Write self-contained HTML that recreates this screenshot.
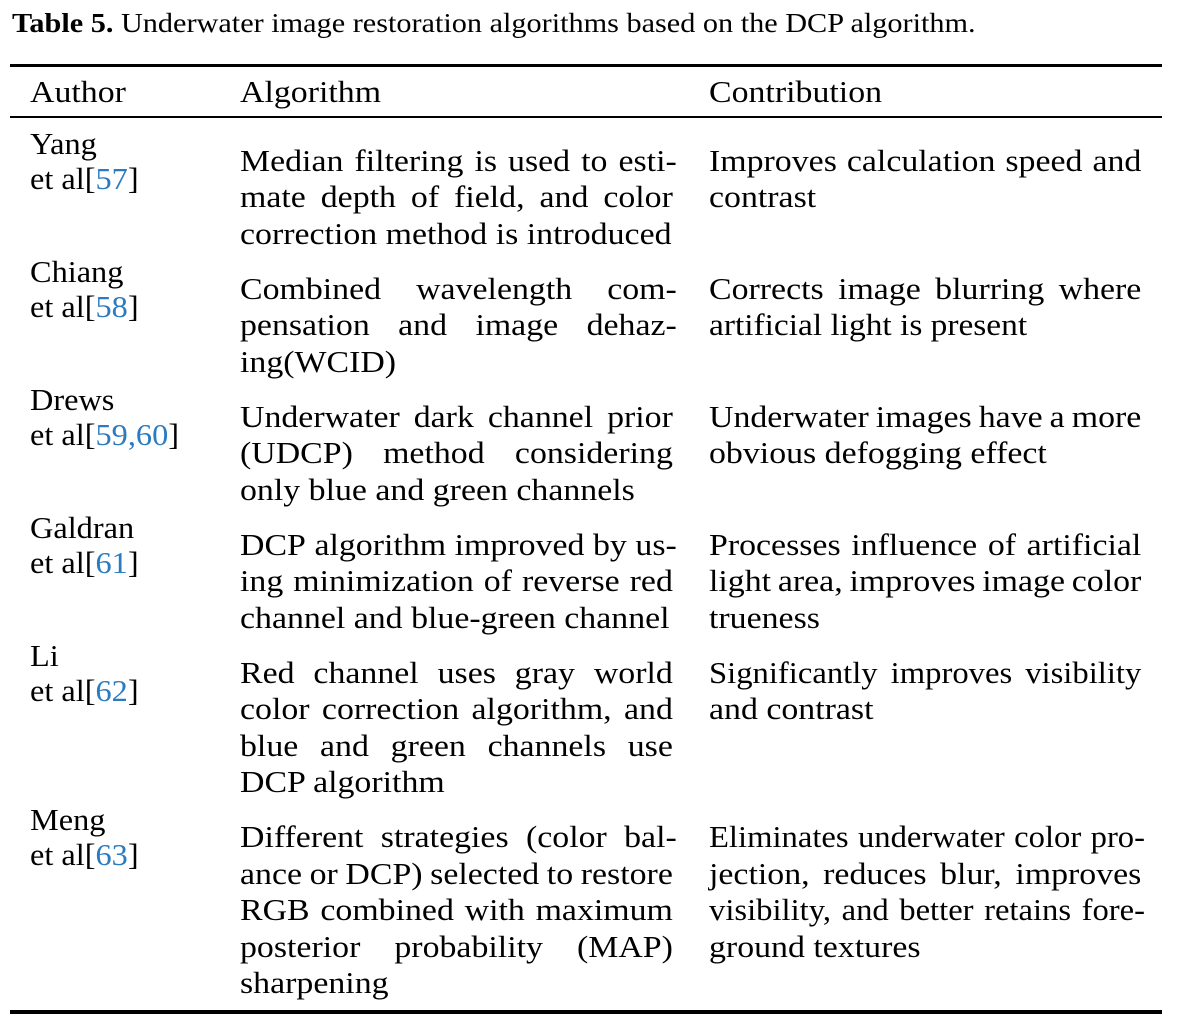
<!DOCTYPE html>
<html>
<head>
<meta charset="utf-8">
<style>
  html, body { margin:0; padding:0; background:#fff; }
  body { width:1185px; height:1029px; position:relative; overflow:hidden; }
  .t { position:absolute; font-family:"Liberation Serif", serif; font-size:30.5px; line-height:30.5px; white-space:nowrap; transform:scaleX(1.11); transform-origin:0 0; color:#000; margin-top:1px; }
  .j { display:flex; justify-content:space-between; }
  .a { left:30px; transform:scaleX(1.06); }
  .g { left:240px; }
  .c { left:709px; }
  .gw { width:390px; }
  .gh { width:393.5px; }
  .cw { width:389.5px; }
  .ch { width:393px; }
  .s2 { transform:scaleX(1.07); }
  .s2.cw { width:404px; }
  .s2.ch { width:407.5px; }
  .l { color:#2a7bc0; }
  .cap { position:absolute; left:12px; top:10.4px; font-family:"Liberation Serif", serif; font-size:27px; line-height:27px; white-space:nowrap; transform:scaleX(1.12); transform-origin:0 0; color:#000; }
  .rule { position:absolute; left:10px; width:1152px; background:#000; }
</style>
</head>
<body>
<div class="cap"><b>Table 5.</b> Underwater image restoration algorithms based on the DCP algorithm.</div>

<div class="rule" style="top:64px;height:3px;"></div>
<div class="rule" style="top:116px;height:2px;"></div>
<div class="rule" style="top:1010px;height:4px;"></div>

<!-- header -->
<div class="t a" style="top:75.5px;transform:scaleX(1.11);">Author</div>
<div class="t g" style="top:75.5px;">Algorithm</div>
<div class="t c" style="top:75.5px;">Contribution</div>

<!-- Row 1 -->
<div class="t a" style="top:127.5px;">Yang</div>
<div class="t a" style="top:162.5px;">et al[<span class="l">57</span>]</div>
<div class="t g j gh" style="top:144.5px;"><span>Median</span><span>filtering</span><span>is</span><span>used</span><span>to</span><span>esti-</span></div>
<div class="t g j gw" style="top:181px;"><span>mate</span><span>depth</span><span>of</span><span>field,</span><span>and</span><span>color</span></div>
<div class="t g" style="top:217.5px;">correction method is introduced</div>
<div class="t c j cw" style="top:144.5px;"><span>Improves</span><span>calculation</span><span>speed</span><span>and</span></div>
<div class="t c" style="top:181px;">contrast</div>

<!-- Row 2 -->
<div class="t a" style="top:255.5px;">Chiang</div>
<div class="t a" style="top:290.5px;">et al[<span class="l">58</span>]</div>
<div class="t g j gh" style="top:272.5px;"><span>Combined</span><span>wavelength</span><span>com-</span></div>
<div class="t g j gh" style="top:309px;"><span>pensation</span><span>and</span><span>image</span><span>dehaz-</span></div>
<div class="t g" style="top:345.5px;">ing(WCID)</div>
<div class="t c j cw" style="top:272.5px;"><span>Corrects</span><span>image</span><span>blurring</span><span>where</span></div>
<div class="t c" style="top:309px;transform:scaleX(1.095);">artificial light is present</div>

<!-- Row 3 -->
<div class="t a" style="top:383.5px;">Drews</div>
<div class="t a" style="top:418.5px;">et al[<span class="l">59,60</span>]</div>
<div class="t g j gw" style="top:400.5px;"><span>Underwater</span><span>dark</span><span>channel</span><span>prior</span></div>
<div class="t g j gw" style="top:437px;"><span>(UDCP)</span><span>method</span><span>considering</span></div>
<div class="t g" style="top:473.5px;">only blue and green channels</div>
<div class="t c j cw" style="top:400.5px;"><span>Underwater</span><span>images</span><span>have</span><span>a</span><span>more</span></div>
<div class="t c" style="top:437px;">obvious defogging effect</div>

<!-- Row 4 -->
<div class="t a" style="top:511.5px;">Galdran</div>
<div class="t a" style="top:546.5px;">et al[<span class="l">61</span>]</div>
<div class="t g j gh" style="top:528.5px;"><span>DCP</span><span>algorithm</span><span>improved</span><span>by</span><span>us-</span></div>
<div class="t g j gw" style="top:565px;"><span>ing</span><span>minimization</span><span>of</span><span>reverse</span><span>red</span></div>
<div class="t g" style="top:601.5px;">channel and blue-green channel</div>
<div class="t c j cw" style="top:528.5px;"><span>Processes</span><span>influence</span><span>of</span><span>artificial</span></div>
<div class="t c j cw" style="top:565px;"><span>light</span><span>area,</span><span>improves</span><span>image</span><span>color</span></div>
<div class="t c" style="top:601.5px;">trueness</div>

<!-- Row 5 -->
<div class="t a" style="top:639.5px;">Li</div>
<div class="t a" style="top:674.5px;">et al[<span class="l">62</span>]</div>
<div class="t g j gw" style="top:656.5px;"><span>Red</span><span>channel</span><span>uses</span><span>gray</span><span>world</span></div>
<div class="t g j gw" style="top:693px;"><span>color</span><span>correction</span><span>algorithm,</span><span>and</span></div>
<div class="t g j gw" style="top:729.5px;"><span>blue</span><span>and</span><span>green</span><span>channels</span><span>use</span></div>
<div class="t g" style="top:766px;">DCP algorithm</div>
<div class="t c j cw s2" style="top:656.5px;"><span>Significantly</span><span>improves</span><span>visibility</span></div>
<div class="t c" style="top:693px;">and contrast</div>

<!-- Row 6 -->
<div class="t a" style="top:804px;">Meng</div>
<div class="t a" style="top:839px;">et al[<span class="l">63</span>]</div>
<div class="t g j gh" style="top:821px;"><span>Different</span><span>strategies</span><span>(color</span><span>bal-</span></div>
<div class="t g j gw" style="top:857.5px;"><span>ance</span><span>or</span><span>DCP)</span><span>selected</span><span>to</span><span>restore</span></div>
<div class="t g j gw" style="top:894px;"><span>RGB</span><span>combined</span><span>with</span><span>maximum</span></div>
<div class="t g j gw" style="top:930.5px;"><span>posterior</span><span>probability</span><span>(MAP)</span></div>
<div class="t g" style="top:967px;">sharpening</div>
<div class="t c j ch s2" style="top:821px;"><span>Eliminates</span><span>underwater</span><span>color</span><span>pro-</span></div>
<div class="t c j cw" style="top:857.5px;"><span>jection,</span><span>reduces</span><span>blur,</span><span>improves</span></div>
<div class="t c j ch s2" style="top:894px;"><span>visibility,</span><span>and</span><span>better</span><span>retains</span><span>fore-</span></div>
<div class="t c" style="top:930.5px;">ground textures</div>
</body>
</html>
